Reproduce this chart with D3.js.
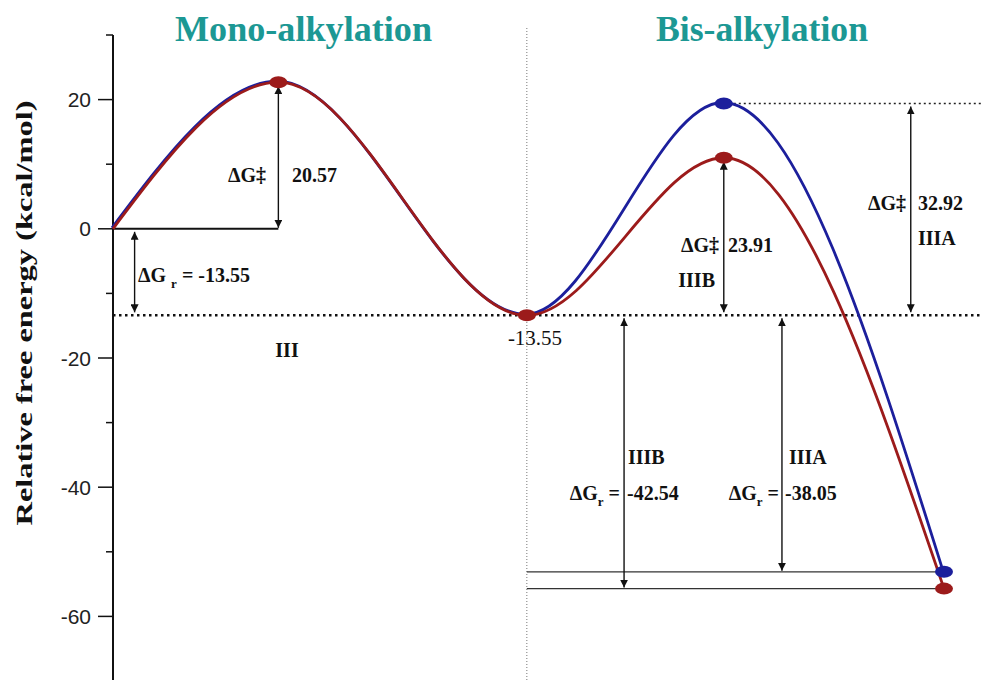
<!DOCTYPE html>
<html>
<head>
<meta charset="utf-8">
<script src="https://cdn.jsdelivr.net/npm/d3@7"></script>
<style>
	body { margin: 0; background: #fff; }
	svg { display: block; }
</style>
</head>
<body>
<div id="chart"></div>
<script>
// reaction coordinate of each stationary point (start, TS1, III, TS2, product)
const rxnCoord = [0, 1.99, 4.98, 7.35, 10];
// relative free energies (kcal/mol)
const energyA = [0, 22.7, -13.4, 19.4, -53.1];   // IIIA path (blue)
const energyB = [0, 22.7, -13.4, 11.0, -55.7];   // IIIB path (red)
const yTicks = [-60, -40, -20, 0, 20];
const yMinorTicks = [-70, -50, -30, -10, 10, 30];
const titles = ["Mono-alkylation", "Bis-alkylation"];

const W = 982, H = 680;
const BLUE = "#1c1f9c", RED = "#9c1b1b", TEAL = "#1c9894";
const SERIF = "'Liberation Serif', 'Times New Roman', serif";

const x = d3.scaleLinear().domain([0, 10]).range([113, 944]);
const y = d3.scaleLinear().domain([-70, 30]).range([681, 35]);

const svg = d3.select("#chart").append("svg")
	.attr("width", W)
	.attr("height", H);

const defs = svg.append("defs");
defs.append("marker")
	.attr("id", "head")
	.attr("viewBox", "0 0 10 10")
	.attr("refX", 10).attr("refY", 5)
	.attr("markerWidth", 8).attr("markerHeight", 8)
	.attr("markerUnits", "userSpaceOnUse")
	.attr("orient", "auto-start-reverse")
	.append("path")
	.attr("d", "M0,0 L10,5 L0,10 Z")
	.attr("fill", "#111");

// y axis
const yAxis = svg.append("g")
	.attr("transform", `translate(${x(0)},0)`);
yAxis.append("line")
	.attr("y1", y(30)).attr("y2", H)
	.attr("stroke", "#111").attr("stroke-width", 2);
yAxis.selectAll(".major").data(yTicks).enter()
	.append("line")
	.attr("x1", -15).attr("x2", 0)
	.attr("y1", d => y(d)).attr("y2", d => y(d))
	.attr("stroke", "#111").attr("stroke-width", 1.5);
yAxis.selectAll(".minor").data(yMinorTicks).enter()
	.append("line")
	.attr("x1", -7).attr("x2", 0)
	.attr("y1", d => y(d)).attr("y2", d => y(d))
	.attr("stroke", "#111").attr("stroke-width", 1.5);
yAxis.selectAll("text").data(yTicks).enter()
	.append("text")
	.attr("x", -22)
	.attr("y", d => y(d))
	.attr("dy", "0.36em")
	.attr("text-anchor", "end")
	.attr("font-family", "'Liberation Sans', Arial, sans-serif")
	.attr("font-size", 21)
	.attr("fill", "#222")
	.text(d => d);

svg.append("text")
	.attr("transform", "translate(32,313) rotate(-90)")
	.attr("text-anchor", "middle")
	.attr("font-family", SERIF)
	.attr("font-weight", "bold")
	.attr("font-size", 23)
	.attr("textLength", 425)
	.attr("lengthAdjust", "spacingAndGlyphs")
	.attr("fill", "#111")
	.text("Relative free energy (kcal/mol)");

// titles
svg.selectAll(".title").data(titles).enter()
	.append("text")
	.attr("x", (d, i) => i === 0 ? 175 : 656)
	.attr("y", 41)
	.attr("font-family", SERIF)
	.attr("font-weight", "bold")
	.attr("font-size", 36)
	.attr("textLength", (d, i) => i === 0 ? 257 : 212)
	.attr("lengthAdjust", "spacingAndGlyphs")
	.attr("fill", TEAL)
	.text(d => d);

// separator between mono and bis stages
svg.append("line")
	.attr("x1", x(rxnCoord[2])).attr("x2", x(rxnCoord[2]))
	.attr("y1", 28).attr("y2", H)
	.attr("stroke", "#777").attr("stroke-width", 1)
	.attr("stroke-dasharray", "1,2");

// reference levels
const eIII = energyA[2];
svg.append("line")
	.attr("x1", x(0)).attr("x2", W)
	.attr("y1", y(eIII)).attr("y2", y(eIII))
	.attr("stroke", "#111").attr("stroke-width", 2.5)
	.attr("stroke-dasharray", "2.5,3.5");
svg.append("line")
	.attr("x1", x(rxnCoord[3]) + 10).attr("x2", W)
	.attr("y1", y(energyA[3])).attr("y2", y(energyA[3]))
	.attr("stroke", "#222").attr("stroke-width", 1.6)
	.attr("stroke-dasharray", "2,3");
svg.append("line")
	.attr("x1", x(0)).attr("x2", x(rxnCoord[1]))
	.attr("y1", y(0)).attr("y2", y(0))
	.attr("stroke", "#111").attr("stroke-width", 2);
[energyA[4], energyB[4]].forEach(e => {
	svg.append("line")
		.attr("x1", x(rxnCoord[2])).attr("x2", x(rxnCoord[4]) - 6)
		.attr("y1", y(e)).attr("y2", y(e))
		.attr("stroke", "#333").attr("stroke-width", 1.4);
});

// energy profiles
const line = d3.line()
	.x((d, i) => x(rxnCoord[i]))
	.y(d => y(d))
	.curve(d3.curveMonotoneX);

// blue drawn a hair up-left so it peeks out under the red one, as in the figure
svg.append("path")
	.datum(energyA)
	.attr("d", line)
	.attr("transform", "translate(-1,-1)")
	.attr("fill", "none")
	.attr("stroke", BLUE)
	.attr("stroke-width", 2.8);
svg.append("path")
	.datum(energyB)
	.attr("d", line)
	.attr("fill", "none")
	.attr("stroke", RED)
	.attr("stroke-width", 2.8);

// double-headed arrows
function arrow(xv, e1, e2, pad1, pad2) {
	svg.append("line")
		.attr("x1", xv).attr("x2", xv)
		.attr("y1", y(e1) + pad1).attr("y2", y(e2) - pad2)
		.attr("stroke", "#111").attr("stroke-width", 1.4)
		.attr("marker-start", "url(#head)")
		.attr("marker-end", "url(#head)");
}
arrow(x(rxnCoord[1]), energyA[1], 0, 4, 1);
arrow(x(0.26), 0, eIII, 3, 3);
arrow(x(rxnCoord[3]), energyB[3], eIII, 4, 3);
arrow(x(9.6), energyA[3], eIII, 3, 3);
arrow(x(6.15), eIII, energyB[4], 3, 1);
arrow(x(8.05), eIII, energyA[4], 3, 1);

// stationary point markers
function dot(xi, e, color) {
	svg.append("ellipse")
		.attr("cx", x(xi)).attr("cy", y(e))
		.attr("rx", 9).attr("ry", 6)
		.attr("fill", color);
}
dot(rxnCoord[1], energyB[1], RED);
dot(rxnCoord[2], energyB[2], RED);
dot(rxnCoord[3], energyA[3], BLUE);
dot(rxnCoord[3], energyB[3], RED);
dot(rxnCoord[4], energyA[4], BLUE);
dot(rxnCoord[4], energyB[4], RED);

// annotation labels: text before the subscript, the subscript, text after it
function label(xv, yv, anchor, text, sub, after, opts = {}) {
	const t = svg.append("text")
		.attr("x", xv).attr("y", yv)
		.attr("text-anchor", anchor)
		.attr("font-family", SERIF)
		.attr("font-weight", opts.weight || "bold")
		.attr("font-size", opts.size || 20)
		.attr("fill", "#111");
	t.append("tspan").text(text);
	if (sub) {
		t.append("tspan").attr("dy", 6).attr("font-size", 13).text(sub);
		t.append("tspan").attr("dy", -6).text(after);
	}
	return t;
}
label(266, 182, "end", "ΔG‡");
label(292, 182, "start", "20.57");
label(138, 282, "start", "ΔG ", "r", " = -13.55");
label(287, 357, "middle", "III");
label(535, 345, "middle", "-13.55", null, null, {weight: "normal", size: 21});
label(719, 252, "end", "ΔG‡");
label(728, 252, "start", "23.91");
label(715, 287, "end", "IIIB");
label(906, 210, "end", "ΔG‡");
label(918, 210, "start", "32.92");
label(918, 245, "start", "IIIA");
label(628, 464, "start", "IIIB");
label(620, 500, "end", "ΔG", "r", " =");
label(627, 500, "start", "-42.54");
label(789, 464, "start", "IIIA");
label(779, 500, "end", "ΔG", "r", " =");
label(785, 500, "start", "-38.05");
</script>
</body>
</html>
